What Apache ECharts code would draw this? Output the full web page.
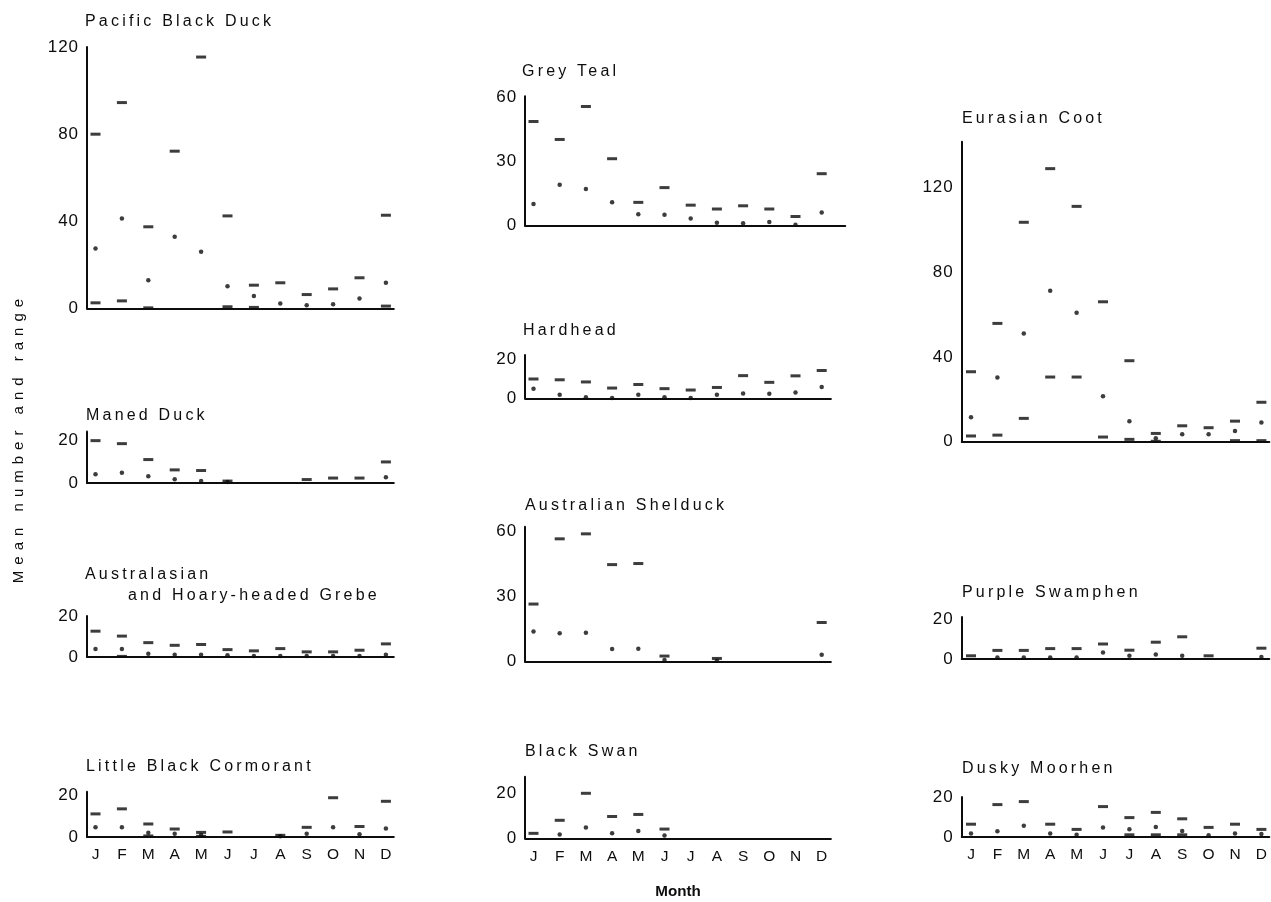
<!DOCTYPE html>
<html>
<head>
<meta charset="utf-8">
<script src="https://cdn.jsdelivr.net/npm/echarts@6/dist/echarts.min.js"></script>
<style>
html,body{margin:0;padding:0;background:#fff;}
#chart{width:1271px;height:902px;}
</style>
</head>
<body>
<div id="chart"></div>
<script>
// ---------- DATA ----------
const months = ['J','F','M','A','M','J','J','A','S','O','N','D'];

const pacificMean = [27.5, 41.3, 13, 32.9, 26, 10.2, 5.7, 2.3, 1.5, 2, 4.6, 11.8];
const pacificMax  = [80, 94.5, 37.5, 72.2, 115.4, 42.5, 10.7, 11.8, 6.4, 9, 14.1, 42.8];
const pacificMin  = [2.6, 3.5, 0.3, null, null, 0.8, 0.5, null, null, null, null, 1.1];

const manedMean = [4.1, 4.8, 3.1, 1.7, 0.9, 0.5, null, null, null, null, null, 2.7];
const manedMax  = [19.7, 18.3, 10.9, 6.1, 5.8, 0.9, null, null, 1.6, 2.3, 2.3, 9.8];
const manedMin  = [null, null, null, null, null, null, null, null, null, null, null, null];

const grebeMean = [3.9, 3.9, 1.6, 1.1, 1.1, 0.8, 0.5, 0.5, 0.5, 0.5, 0.5, 1.1];
const grebeMax  = [12.6, 10.2, 7, 5.7, 6.1, 3.6, 3, 4.1, 2.5, 2.5, 3.3, 6.4];
const grebeMin  = [null, 0.3, null, null, null, null, null, null, null, null, null, null];

const cormorantMean = [4.6, 4.6, 2, 1.6, 1, null, null, 0.4, 1.6, 4.6, 1.3, 4];
const cormorantMax  = [11, 13.4, 6.2, 3.8, 2.2, 2.4, null, 0.8, 4.6, 18.7, 5, 17];
const cormorantMin  = [null, null, 0.5, null, 0.3, null, null, null, null, null, null, null];

const tealMean = [10.1, 19.1, 17.1, 11, 5.3, 5.1, 3.4, 1.4, 1.1, 1.7, 0.5, 6.2];
const tealMax  = [48.7, 40.3, 55.7, 31.3, 10.9, 17.8, 9.6, 7.8, 9.3, 7.8, 4.3, 24.3];
const tealMin  = [null, null, null, null, null, null, null, null, null, null, null, null];

const hardheadMean = [4.9, 1.8, 0.5, 0.2, 1.8, 0.5, 0.2, 1.8, 2.4, 2.3, 2.9, 5.7];
const hardheadMax  = [9.8, 9.4, 8.3, 5.2, 7, 4.9, 4.2, 5.5, 11.5, 8.1, 11.4, 14.1];
const hardheadMin  = [null, null, null, null, null, null, null, null, null, null, null, null];

const shelduckMean = [13.9, 13.1, 13.4, 5.9, 6, 0.8, null, 0.4, null, null, null, 3.2];
const shelduckMax  = [26.6, 56.7, 59, 44.8, 45.3, 2.6, null, 1.5, null, null, null, 18.1];
const shelduckMin  = [null, null, null, null, null, null, null, null, null, null, null, null];

const swanMean = [null, 1.7, 4.8, 2.2, 3.2, 1.3, null, null, null, null, null, null];
const swanMax  = [2.2, 8, 20, 9.7, 10.6, 4.1, null, null, null, null, null, null];
const swanMin  = [null, null, null, null, null, null, null, null, null, null, null, null];

const cootMean = [11.5, 30.3, 51, 71.2, 60.8, 21.4, 9.6, 1.6, 3.5, 3.5, 5, 9];
const cootMax  = [33, 55.8, 103.5, 128.8, 111, 66, 38.2, 3.9, 7.5, 6.6, 9.7, 18.6];
const cootMin  = [2.7, 3.1, 11, 30.5, 30.5, 2.2, 1.1, 0.2, null, null, 0.5, 0.5];

const swamphenMean = [null, 0.8, 0.8, 0.8, 0.8, 3.2, 1.6, 2.2, 1.6, null, null, 1];
const swamphenMax  = [1.6, 4.3, 4.3, 5.2, 5.2, 7.5, 4.4, 8.4, 11.1, 1.6, null, 5.4];
const swamphenMin  = [null, null, null, null, null, null, null, null, null, null, null, null];

const moorhenMean = [1.8, 2.9, 5.6, 1.8, 1.1, 4.8, 3.9, 5, 3, 0.9, 1.8, 1.5];
const moorhenMax  = [6.4, 16.2, 17.7, 6.4, 3.8, 15.2, 9.7, 12.3, 9.1, 4.8, 6.4, 3.8];
const moorhenMin  = [null, null, null, null, null, null, 1.1, 1.1, 1.1, null, null, null];

const ticks120 = [0, 40, 80, 120];
const ticks60 = [0, 30, 60];
const ticks20 = [0, 20];

// ---------- LAYOUT ----------
const cols = {
  L: {x0: 95.5, dx: 26.4, xmin: -0.32, xmax: 11.3},
  M: {x0: 533.5, dx: 26.2, xmin: -0.32, xmax: 11.35},
  R: {x0: 971, dx: 26.4, xmin: -0.35, xmax: 11.3}
};

const panels = [
  {title: 'Pacific Black Duck', tx: 85, ty: 23, col: 'L', zero: 308.5, ppu: 2.179, ymax: 120, labels: ticks120, mean: pacificMean, max: pacificMax, min: pacificMin},
  {title: 'Maned Duck', tx: 86, ty: 417, col: 'L', zero: 483, ppu: 2.15, ymax: 24, labels: ticks20, mean: manedMean, max: manedMax, min: manedMin},
  {title: 'Australasian', title2: 'and Hoary-headed Grebe', tx: 85, ty: 576, tx2: 128, ty2: 597, col: 'L', zero: 657, ppu: 2.05, ymax: 20, labels: ticks20, mean: grebeMean, max: grebeMax, min: grebeMin},
  {title: 'Little Black Cormorant', tx: 86, ty: 768, col: 'L', zero: 837, ppu: 2.1, ymax: 21.5, labels: ticks20, mean: cormorantMean, max: cormorantMax, min: cormorantMin, months: true},
  {title: 'Grey Teal', tx: 522, ty: 73, col: 'M', zero: 225.7, ppu: 2.14, ymax: 60.5, labels: ticks60, mean: tealMean, max: tealMax, min: tealMin, xmax: 11.9},
  {title: 'Hardhead', tx: 523, ty: 332, col: 'M', zero: 398.3, ppu: 1.97, ymax: 22, labels: ticks20, mean: hardheadMean, max: hardheadMax, min: hardheadMin},
  {title: 'Australian Shelduck', tx: 525, ty: 507, col: 'M', zero: 661.7, ppu: 2.167, ymax: 62.3, labels: ticks60, mean: shelduckMean, max: shelduckMax, min: shelduckMin},
  {title: 'Black Swan', tx: 525, ty: 753, col: 'M', zero: 838.3, ppu: 2.25, ymax: 27.4, labels: ticks20, mean: swanMean, max: swanMax, min: swanMin, months: true},
  {title: 'Eurasian Coot', tx: 962, ty: 120, col: 'R', zero: 441.7, ppu: 2.12, ymax: 141.5, labels: ticks120, mean: cootMean, max: cootMax, min: cootMin},
  {title: 'Purple Swamphen', tx: 962, ty: 594, col: 'R', zero: 659, ppu: 2.0, ymax: 21, labels: ticks20, mean: swamphenMean, max: swamphenMax, min: swamphenMin},
  {title: 'Dusky Moorhen', tx: 962, ty: 770, col: 'R', zero: 837, ppu: 2.0, ymax: 20, labels: ticks20, mean: moorhenMean, max: moorhenMax, min: moorhenMin, months: true}
];

const INK = '#0d0d0d';
const FONT = 'Liberation Sans';
const TITLE_SIZE = 16, TICK_SIZE = 17, MONTH_SIZE = 15.5, YNAME_SIZE = 15, XNAME_SIZE = 15.2;

// typewriter-like letter spacing of the original lettering (applied per font size)
const SPACING = {};
SPACING[TITLE_SIZE] = '3.2px';
SPACING[TICK_SIZE] = '1px';
SPACING[YNAME_SIZE] = '6px';
(function () {
  const proto = CanvasRenderingContext2D.prototype;
  if (!('letterSpacing' in proto)) return;
  const orig = proto.fillText;
  proto.fillText = function (t, x, y, w) {
    const m = /([\d.]+)px/.exec(this.font || '');
    const key = m ? parseFloat(m[1]) : 0;
    this.letterSpacing = SPACING[key] || '0px';
    return w === undefined ? orig.call(this, t, x, y) : orig.call(this, t, x, y, w);
  };
})();

function pairs(arr) {
  const out = [];
  arr.forEach((v, i) => { if (v !== null && v !== undefined) out.push([i, v]); });
  return out;
}

const grid = [], xAxis = [], yAxis = [], series = [], title = [];

panels.forEach((p, k) => {
  const c = cols[p.col];
  const xmax = p.xmax !== undefined ? p.xmax : c.xmax;
  const left = c.x0 + c.xmin * c.dx;
  const width = (xmax - c.xmin) * c.dx;
  const height = p.ymax * p.ppu;
  const top = p.zero - height;
  grid.push({left: left, top: top, width: width, height: height, containLabel: false});

  xAxis.push({
    type: 'value', gridIndex: k, min: c.xmin, max: xmax,
    axisLine: {show: true, onZero: false, lineStyle: {color: INK, width: 2}},
    axisTick: {show: false}, splitLine: {show: false},
    axisLabel: {
      show: !!p.months, customValues: [0,1,2,3,4,5,6,7,8,9,10,11],
      formatter: v => months[Math.round(v)] || '',
      color: INK, fontFamily: FONT, fontSize: MONTH_SIZE, margin: 10
    }
  });
  yAxis.push({
    type: 'value', gridIndex: k, min: 0, max: p.ymax,
    axisLine: {show: true, onZero: false, lineStyle: {color: INK, width: 2}},
    axisTick: {show: false}, splitLine: {show: false},
    axisLabel: {customValues: p.labels, color: INK, fontFamily: FONT, fontSize: TICK_SIZE, margin: 8}
  });

  series.push({
    type: 'scatter', xAxisIndex: k, yAxisIndex: k, data: pairs(p.max),
    symbol: 'rect', symbolSize: [10, 3], itemStyle: {color: INK}, clip: false, silent: true
  });
  series.push({
    type: 'scatter', xAxisIndex: k, yAxisIndex: k, data: pairs(p.min),
    symbol: 'rect', symbolSize: [10, 3], itemStyle: {color: INK}, clip: false, silent: true
  });
  series.push({
    type: 'scatter', xAxisIndex: k, yAxisIndex: k, data: pairs(p.mean),
    symbol: 'circle', symbolSize: 4.5, itemStyle: {color: INK}, clip: false, silent: true
  });

  title.push({text: p.title, left: p.tx, top: p.ty - 9, textStyle: {fontFamily: FONT, fontSize: TITLE_SIZE, fontWeight: 'normal', color: INK}, padding: 0});
  if (p.title2) {
    title.push({text: p.title2, left: p.tx2, top: p.ty2 - 9, textStyle: {fontFamily: FONT, fontSize: TITLE_SIZE, fontWeight: 'normal', color: INK}, padding: 0});
  }
});

const chart = echarts.init(document.getElementById('chart'), null, {renderer: 'canvas'});
chart.setOption({
  animation: false,
  backgroundColor: '#ffffff',
  title: title,
  grid: grid,
  xAxis: xAxis,
  yAxis: yAxis,
  series: series,
  graphic: [
    {type: 'text', x: 19, y: 438, rotation: Math.PI / 2,
     style: {text: 'Mean number and range', fontFamily: FONT, fontSize: YNAME_SIZE, fill: INK, align: 'center', verticalAlign: 'middle'}},
    {type: 'text', x: 678, y: 892,
     style: {text: 'Month', fontFamily: FONT, fontSize: XNAME_SIZE, fontWeight: 'bold', fill: INK, align: 'center', verticalAlign: 'middle'}}
  ]
});
</script>
</body>
</html>
